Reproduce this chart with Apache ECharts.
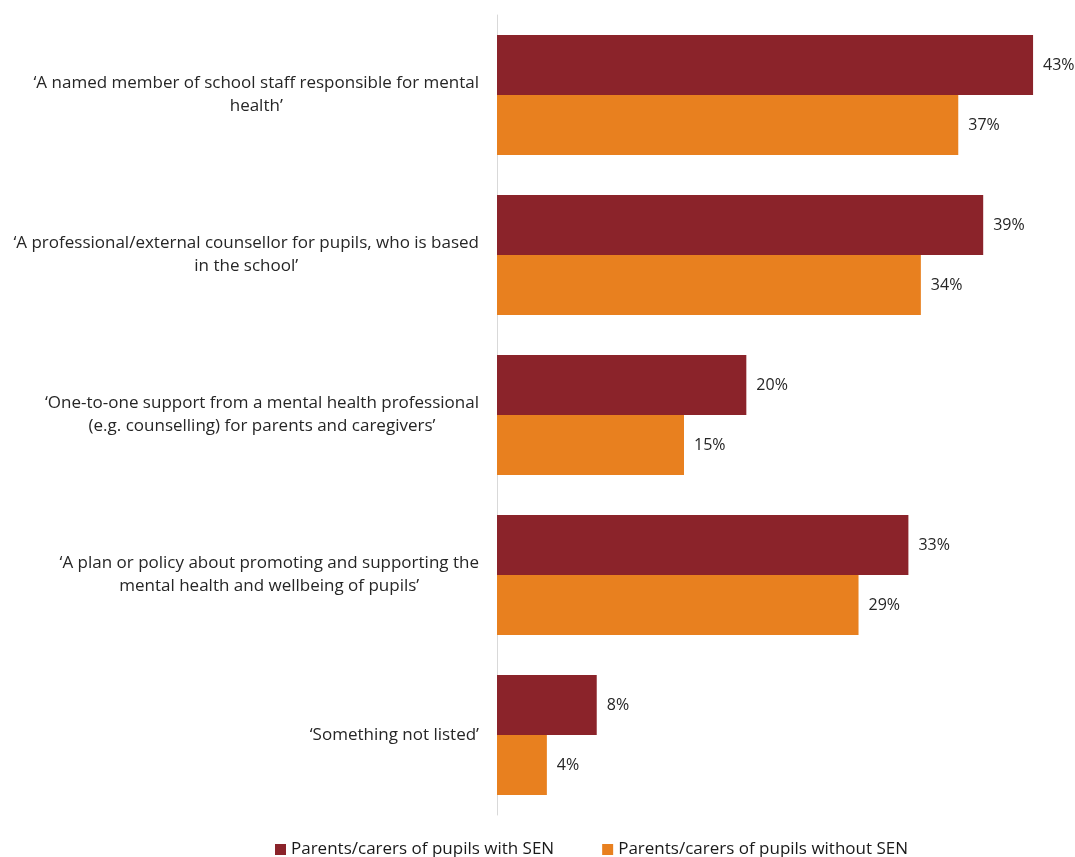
<!DOCTYPE html>
<html>
<head>
<meta charset="utf-8">
<script src="https://cdn.jsdelivr.net/npm/echarts@6/dist/echarts.min.js"></script>
<style>html,body{margin:0;padding:0;background:#fff}#chart{width:1075px;height:857px}</style>
</head>
<body>
<div id="chart"></div>
<script>
const categories = [
  "‘A named member of school staff responsible for mental\nhealth’",
  "‘A professional/external counsellor for pupils, who is based\nin the school’",
  "‘One-to-one support from a mental health professional\n(e.g. counselling) for parents and caregivers’",
  "‘A plan or policy about promoting and supporting the\nmental health and wellbeing of pupils’",
  "‘Something not listed’"
];
const seriesNames = ["Parents/carers of pupils with SEN", "Parents/carers of pupils without SEN"];
const withSEN = [43, 39, 20, 33, 8];
const withoutSEN = [37, 34, 15, 29, 4];

const chart = echarts.init(document.getElementById('chart'));
const FONT = '"Open Sans", "Noto Sans", sans-serif';
chart.setOption({
  animation: false,
  color: ['#8B232A', '#E8801F'],
  grid: { left: 497, right: 17, top: 15, bottom: 42, containLabel: false },
  legend: {
    bottom: -6, left: 270,
    itemWidth: 11, itemHeight: 11, itemGap: 48, icon: 'rect',
    textStyle: { fontFamily: FONT, fontSize: 17, color: '#1a1a1a' },
    data: seriesNames
  },
  xAxis: {
    type: 'value', min: 0, max: 45,
    axisLine: { show: false }, axisTick: { show: false },
    axisLabel: { show: false }, splitLine: { show: false }
  },
  yAxis: {
    type: 'category', inverse: true, data: categories,
    axisLine: { show: true, lineStyle: { color: '#d9d9d9', width: 1 } },
    axisTick: { show: false },
    axisLabel: {
      margin: 18, align: 'right',
      fontFamily: FONT, fontSize: 17, color: '#262626', lineHeight: 23,
      formatter: function (v) {
        return v.split('\n').map(function (l) { return '{c|' + l + '}'; }).join('\n');
      },
      rich: { c: { align: 'center', fontFamily: FONT, fontSize: 17, color: '#262626', lineHeight: 23 } }
    }
  },
  series: [
    {
      name: seriesNames[0], type: 'bar', data: withSEN,
      barGap: '0%', barCategoryGap: '25%',
      label: { show: true, position: 'right', distance: 10, formatter: '{c}%', fontFamily: FONT, fontSize: 16, color: '#262626' }
    },
    {
      name: seriesNames[1], type: 'bar', data: withoutSEN,
      barGap: '0%', barCategoryGap: '25%',
      label: { show: true, position: 'right', distance: 10, formatter: '{c}%', fontFamily: FONT, fontSize: 16, color: '#262626' }
    }
  ]
});
</script>
</body>
</html>
